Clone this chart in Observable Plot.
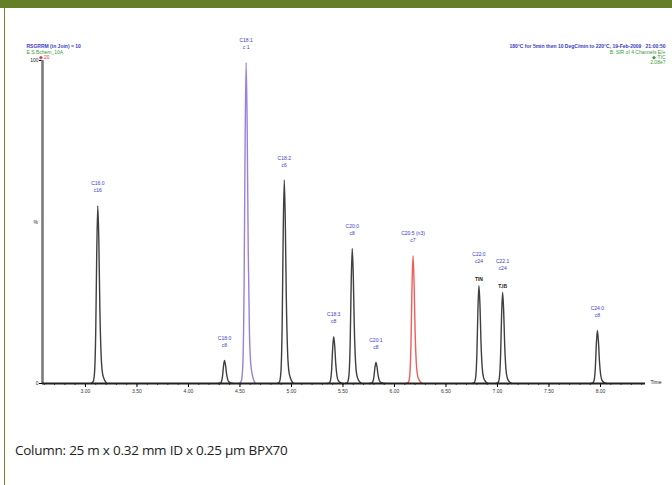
<!DOCTYPE html>
<html><head><meta charset="utf-8">
<script src="https://cdn.jsdelivr.net/npm/d3@7"></script>
<script src="https://cdn.jsdelivr.net/npm/@observablehq/plot@0.6"></script>
<style>
body{margin:0;width:672px;height:485px;background:#fff;position:relative;overflow:hidden;font-family:"Open Sans",sans-serif}
#bar{position:absolute;left:0;top:0;width:672px;height:8px;background:#657f28}
#side{position:absolute;left:4px;top:8px;width:1px;height:477px;background:#6d8a2c}
#chart{position:absolute;left:0;top:0}
#cap{position:absolute;left:15px;top:441px;font-size:13.5px;color:#222;letter-spacing:-0.25px}
</style></head><body>
<div id="bar"></div><div id="side"></div><div id="chart"></div>
<div id="cap">Column: 25 m x 0.32 mm ID x 0.25 µm BPX70</div>
<script>
// peaks
const peakNames   = ["C16:0","C18:0","C18:1","C18:2","C18:3","C20:0","C20:1","C20:5 (n3)","C22:0","C22:1","C24:0"];
const peakSubs    = ["c16","c8","c 1","c6","c8","c8","c8","c7","c24","c24","c8"];
const peakTags    = ["","","","","","","","","TIN","T.IB",""];
const peakTimes   = [3.12, 4.35, 4.56, 4.93, 5.41, 5.59, 5.82, 6.18, 6.82, 7.05, 7.97];
const peakHeights = [55, 7.1, 99.4, 63, 14.5, 41.8, 6.5, 39.6, 30.3, 28.2, 16.4];
const peakChannel = ["A","A","B","A","A","A","A","C","A","A","A"];
// peak profile (offset in min, relative intensity)
const profileOffsets = [-0.065,-0.045,-0.032,-0.02,-0.01,0,0.01,0.02,0.032,0.045,0.065,0.09];
const profileRel     = [0,0.01,0.06,0.3,0.75,1,0.8,0.42,0.16,0.06,0.02,0];
// axes
const xDomain = [2.583, 8.437];
const xTicks = [3,3.5,4,4.5,5,5.5,6,6.5,7,7.5,8];
const xMinor = d3.range(26, 85).map(d => d / 10);
const yTicks = [0, 100];
const leftHeader = ["RSGRRM (in Join) = 10", "E.S.Bchem_10A", "\u25C6 20"];
const rightHeader = ["180\u00B0C for 5min then 10 DegC/min to 220\u00B0C, 19-Feb-2009   21:00:50", "B: SIR of 4 Channels EI+", "\u25C6 TIC", "2.08e7"];

const peaks = peakNames.map((n, i) => ({name: n, sub: peakSubs[i], tag: peakTags[i], t: peakTimes[i], h: peakHeights[i], ch: peakChannel[i]}));
const trace = peaks.flatMap(p => profileOffsets.map((o, j) => ({name: p.name, ch: p.ch, t: p.t + o, v: p.h * profileRel[j]})));

const blue = "#3b3bc4";
const chart = Plot.plot({
  width: 672, height: 410,
  marginLeft: 42, marginRight: 27, marginTop: 60, marginBottom: 27,
  style: {background: "transparent", fontFamily: "Arial, sans-serif"},
  x: {domain: xDomain},
  y: {domain: [0, 100]},
  color: {domain: ["A","B","C"], range: ["#3f3f3f","#9a80dc","#ef5e58"]},
  marks: [
    Plot.axisX(xMinor, {tickSize: 2, tickFormat: () => "", label: null, stroke: "#444"}),
    Plot.axisX(xTicks, {tickSize: 4, tickFormat: d => d.toFixed(2), label: null, fontSize: 5, tickPadding: 2, fill: "#333"}),
    Plot.axisY(yTicks, {tickSize: 3, label: null, fontSize: 5, tickPadding: 1, fill: "#222"}),
    Plot.ruleX([xDomain[0]], {stroke: "#777", strokeWidth: 2.5}),
    Plot.line(trace, {x: "t", y: "v", z: "name", stroke: "ch", strokeWidth: 1.4, curve: "monotone-x"}),
    Plot.ruleY([0], {stroke: "#222", strokeWidth: 2}),
    Plot.text(peaks.filter(p => !p.tag), {x: "t", y: "h", text: "name", dy: -22, fill: blue, fontSize: 5}),
    Plot.text(peaks.filter(p => !p.tag), {x: "t", y: "h", text: "sub", dy: -15, fill: blue, fontSize: 5}),
    Plot.text(peaks.filter(p => p.tag), {x: "t", y: "h", text: "name", dy: -31, fill: blue, fontSize: 5}),
    Plot.text(peaks.filter(p => p.tag), {x: "t", y: "h", text: "sub", dy: -24, fill: blue, fontSize: 5}),
    Plot.text(peaks.filter(p => p.tag), {x: "t", y: "h", text: "tag", dy: -6, fill: "#222", fontSize: 5, fontWeight: "bold"}),
    Plot.text(["%"], {frameAnchor: "left", dx: -9, fontSize: 5, fill: "#222"}),
    Plot.text(["Time"], {frameAnchor: "bottom-right", dx: 5, textAnchor: "start", fontSize: 5, fill: "#222"}),
    Plot.text([leftHeader[0]], {frameAnchor: "top-left", dx: -16, dy: -16, textAnchor: "start", fontSize: 5, fill: blue, fontWeight: "bold"}),
    Plot.text([leftHeader[1]], {frameAnchor: "top-left", dx: -16, dy: -10, textAnchor: "start", fontSize: 5, fill: "#3a9a3a"}),
    Plot.text([leftHeader[2]], {frameAnchor: "top-left", dx: -4, dy: -5, textAnchor: "start", fontSize: 5, fill: "#e03a3a"}),
    Plot.text([rightHeader[0]], {frameAnchor: "top-right", dx: 20, dy: -16, textAnchor: "end", fontSize: 5, fill: blue, fontWeight: "bold"}),
    Plot.text([rightHeader[1]], {frameAnchor: "top-right", dx: 20, dy: -10, textAnchor: "end", fontSize: 5, fill: "#3a9a3a"}),
    Plot.text([rightHeader[2]], {frameAnchor: "top-right", dx: 20, dy: -5, textAnchor: "end", fontSize: 5, fill: "#3a9a3a"}),
    Plot.text([rightHeader[3]], {frameAnchor: "top-right", dx: 20, dy: 0, textAnchor: "end", fontSize: 5, fill: "#3a9a3a"})
  ]
});
document.getElementById("chart").appendChild(chart);
</script>
</body></html>
